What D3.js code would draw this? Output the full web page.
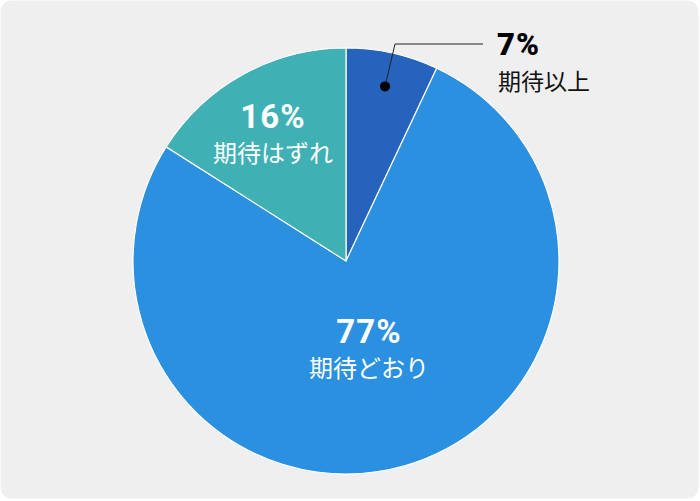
<!DOCTYPE html>
<html>
<head>
<meta charset="utf-8">
<script src="https://cdn.jsdelivr.net/npm/d3@7"></script>
<style>
  body { margin: 0; background: #fff; }
  svg text { font-family: "Noto Sans CJK JP", "Noto Sans", sans-serif; }
  svg text.pct { font-family: Roboto, "Noto Sans", sans-serif; }
</style>
</head>
<body>
<div id="chart"></div>
<script>
// Slice data, clockwise from 12 o'clock
var categories = ["期待以上", "期待どおり", "期待はずれ"];
var values = [7, 77, 16];
var colors = ["#2563bd", "#2b90e0", "#3fb1b5"];

var width = 700;
var height = 501;
var cx = 346, cy = 261, radius = 213;

var svg = d3.select("#chart")
    .append("svg")
    .attr("width", width)
    .attr("height", height);

// Card background
svg.append("rect")
    .attr("x", 0.5)
    .attr("y", 0.5)
    .attr("width", 698)
    .attr("height", 498)
    .attr("rx", 11)
    .attr("fill", "#efefef");

var pie = d3.pie().sort(null).value(d => d);
var arcs = pie(values);
var arc = d3.arc().innerRadius(0).outerRadius(radius);

var g = svg.append("g").attr("transform", "translate(" + cx + "," + cy + ")");

g.selectAll("path")
    .data(arcs)
    .enter()
    .append("path")
    .attr("d", arc)
    .attr("fill", (d, i) => colors[i])
    .attr("stroke", "#fff")
    .attr("stroke-width", 1.2);

// Labels inside the big slices
var inside = [
  { i: 1, x: 369, y: 343 },
  { i: 2, x: 273, y: 128 }
];
inside.forEach(function(o) {
  svg.append("text")
      .attr("class", "pct")
      .attr("x", o.x).attr("y", o.y)
      .attr("text-anchor", "middle")
      .attr("fill", "#fff")
      .attr("font-size", 33)
      .attr("font-weight", "bold")
      .attr("letter-spacing", 1)
      .text(values[o.i] + "%");
  svg.append("text")
      .attr("x", o.x).attr("y", o.y + 34)
      .attr("text-anchor", "middle")
      .attr("fill", "#fff")
      .attr("font-size", 24)
      .text(categories[o.i]);
});

// Callout for the small slice
var small = arcs[0];
var mid = (small.startAngle + small.endAngle) / 2;
var dotR = radius * 0.84;
var dot = [cx + Math.sin(mid) * dotR, cy - Math.cos(mid) * dotR];
svg.append("polyline")
    .attr("points", [dot, [395, 44], [483, 44]].map(p => p.join(",")).join(" "))
    .attr("fill", "none")
    .attr("stroke", "#222")
    .attr("stroke-width", 1);
svg.append("circle")
    .attr("cx", dot[0]).attr("cy", dot[1])
    .attr("r", 5)
    .attr("fill", "#000");
svg.append("text")
    .attr("class", "pct")
    .attr("x", 497).attr("y", 55)
    .attr("fill", "#000")
    .attr("font-size", 31)
    .attr("font-weight", 900)
    .attr("letter-spacing", 1)
    .text(values[0] + "%");
svg.append("text")
    .attr("x", 498).attr("y", 90)
    .attr("fill", "#111")
    .attr("font-size", 23)
    .text(categories[0]);
</script>
</body>
</html>
